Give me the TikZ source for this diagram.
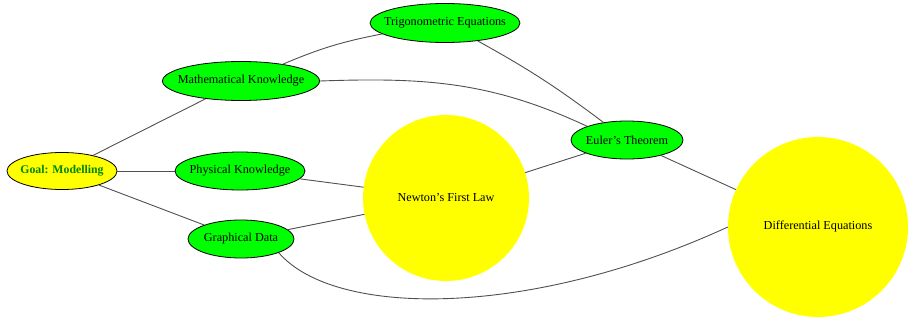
\documentclass[tikz,border=0pt]{standalone}
\usepackage{fontspec}
\setmainfont{Liberation Serif}
\usetikzlibrary{shapes.geometric}
\definecolor{nodegreen}{RGB}{0,255,0}
\definecolor{nodeyellow}{RGB}{255,255,0}
\definecolor{goaltext}{RGB}{0,135,0}
\definecolor{edgegray}{RGB}{80,80,80}
% label whose width does not enlarge the surrounding shape
\newcommand{\nodetext}[1]{\makebox[0pt]{#1}}
\tikzset{
  topic/.style={ellipse, draw=black, line width=0.8pt, fill=nodegreen, inner sep=0pt, font=\fontsize{12.2}{14}\selectfont},
  goal/.style={ellipse, draw=black, line width=0.8pt, fill=nodeyellow, inner sep=0pt, text=goaltext, font=\fontsize{11.8}{14}\selectfont\bfseries},
  target/.style={circle, fill=nodeyellow, inner sep=0pt, font=\fontsize{12.2}{14}\selectfont},
  link/.style={draw=edgegray, line width=0.9pt}
}
\begin{document}
\begin{tikzpicture}[x=1pt, y=-1pt]
\useasboundingbox (0,0) rectangle (910,324);

% graph nodes
\node[goal, minimum width=110pt, minimum height=37pt] (goal) at (62,171) {\nodetext{Goal: Modelling}};
\node[topic, minimum width=157pt, minimum height=39pt] (math) at (241,81) {\nodetext{Mathematical Knowledge}};
\node[topic, minimum width=150pt, minimum height=39pt] (trig) at (445,23) {\nodetext{Trigonometric Equations}};
\node[topic, minimum width=130pt, minimum height=38pt] (phys) at (240,171) {\nodetext{Physical Knowledge}};
\node[topic, minimum width=106pt, minimum height=38pt] (graph) at (241,239) {\nodetext{Graphical Data}};
\node[target, minimum size=166pt] (newton) at (446,198) {\nodetext{Newton's First Law}};
\node[topic, minimum width=112pt, minimum height=38pt] (euler) at (627,140) {\nodetext{Euler's Theorem}};
\node[target, minimum size=180pt] (diff) at (818,227) {\nodetext{Differential Equations}};

% connections
\path[link] (goal) -- (math);
\path[link] (goal) -- (phys);
\path[link] (goal) -- (graph);
\path[link] (math) to[bend left=6] (trig);
\path[link] (math.east) to[out=2, in=155] (euler.north west);
\path[link] (trig) to[bend left=4] (euler);
\path[link] (phys) -- (newton);
\path[link] (graph) -- (newton);
\path[link] (newton) -- (euler);
\path[link] (euler) -- (diff);
\path[link] (graph.south east) .. controls (335,318) and (530,318) .. (diff.west);
\end{tikzpicture}
\end{document}
